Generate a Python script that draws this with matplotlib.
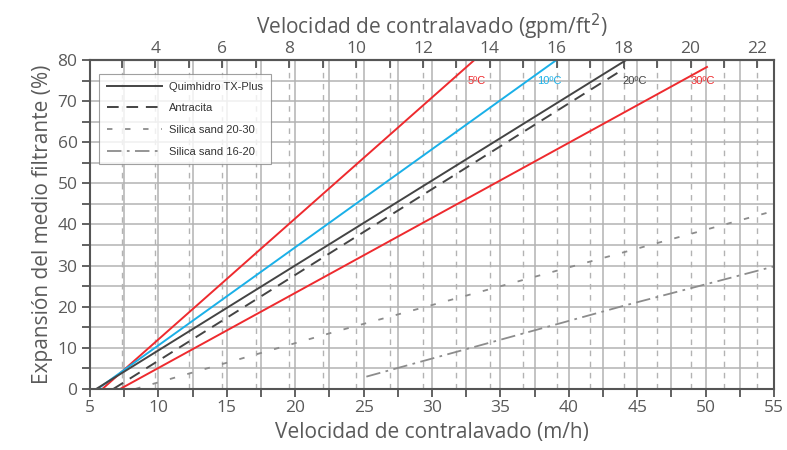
import numpy as np
import matplotlib
matplotlib.use("Agg")
import matplotlib.pyplot as plt
from matplotlib.ticker import MultipleLocator, FixedLocator

plt.rcParams['font.family'] = ['Open Sans', 'DejaVu Sans']

# conversion 1 gpm/ft2 -> m/h
GPM = 2.445

# series (m/h, % expansion)
x_5c = [5.9, 33.1]
y_5c = [0, 80]
x_10c = [5.55, 39.1]
y_10c = [0, 80]
x_quim = [5.45, 44.2]
y_quim = [0, 80]
x_antr = [6.7, 44.1]
y_antr = [0, 78]
x_30c = [7.2, 50.1]
y_30c = [0, 78.3]
x_ss2030 = [8.3, 23.0, 55.0]
y_ss2030 = [0, 14.0, 43.3]
x_ss1620 = [25.2, 44.2, 55.0]
y_ss1620 = [3.0, 20.4, 29.8]

temp_labels = ['5ºC', '10ºC', '20ºC', '30ºC']
temp_x = [32.6, 37.65, 43.95, 48.9]
temp_colors = ['#ee2a2e', '#1ab0e8', '#444444', '#ee2a2e']

gpm_ticks = [4, 6, 8, 10, 12, 14, 16, 18, 20, 22]
gpm_minor = list(range(3, 23))

txt = '#5a5a5a'

fig = plt.figure(figsize=(7.87, 4.5), dpi=100)
ax = fig.add_axes([0.1144, 0.1356, 0.8691, 0.7311])

ax.set_xlim(5, 55)
ax.set_ylim(0, 80)

# grid
for v in np.arange(5, 55.1, 2.5):
    ax.axvline(v, color='#b3b3b3', lw=1.1, zorder=0)
for v in np.arange(5, 80.1, 5):
    ax.axhline(v, color='#b3b3b3', lw=1.1, zorder=0)
for g in gpm_minor:
    ax.axvline(g * GPM, color='#b3b3b3', lw=1.0, ls=(0, (4, 4)), zorder=0)

# curves
ax.plot(x_5c, y_5c, color='#ee2a2e', lw=1.4)
ax.plot(x_10c, y_10c, color='#1ab0e8', lw=1.4)
ax.plot(x_quim, y_quim, color='#444444', lw=1.4, label='Quimhidro TX-Plus')
ax.plot(x_antr, y_antr, color='#444444', lw=1.4, ls=(0, (6, 4)), label='Antracita')
ax.plot(x_30c, y_30c, color='#ee2a2e', lw=1.4)
ax.plot(x_ss2030, y_ss2030, color='#8c8c8c', lw=1.3, ls=(0, (3, 7)),
        label='Silica sand 20-30')
ax.plot(x_ss1620, y_ss1620, color='#8c8c8c', lw=1.3, ls=(0, (8, 3, 1.5, 3)),
        label='Silica sand 16-20')

for lab, xx, cc in zip(temp_labels, temp_x, temp_colors):
    ax.text(xx, 74.8, lab, color=cc, fontsize=8, va='center', ha='left',
            family=['Liberation Sans', 'DejaVu Sans'])

leg = ax.legend(loc='upper left', bbox_to_anchor=(0.005, 0.975),
                frameon=True, fancybox=False, edgecolor='#888888',
                handlelength=5, handletextpad=0.6, labelspacing=1.05, borderpad=0.7,
                prop={'family': ['Liberation Sans', 'DejaVu Sans'], 'size': 8})
leg.get_frame().set_linewidth(0.8)
for t in leg.get_texts():
    t.set_color('#333333')

# axes styling
for s in ax.spines.values():
    s.set_color('#555555')
    s.set_linewidth(1.5)

ax.xaxis.set_major_locator(MultipleLocator(5))
ax.xaxis.set_minor_locator(MultipleLocator(2.5))
ax.yaxis.set_major_locator(MultipleLocator(10))
ax.yaxis.set_minor_locator(MultipleLocator(5))
ax.tick_params(axis='both', which='both', direction='out', color='#555555',
               width=1.3, length=6, labelsize=12.5, labelcolor=txt)
ax.tick_params(axis='x', pad=2)
ax.tick_params(axis='y', pad=3)

ax.set_xlabel('Velocidad de contralavado (m/h)', fontsize=15, color=txt, labelpad=4)
ax.set_ylabel('Expansión del medio filtrante (%)', fontsize=15, color=txt, labelpad=3)

top = ax.secondary_xaxis('top', functions=(lambda v: v / GPM, lambda g: g * GPM))
top.xaxis.set_major_locator(FixedLocator(gpm_ticks))
top.xaxis.set_minor_locator(FixedLocator(gpm_minor))
top.tick_params(axis='x', which='both', direction='in', length=6, width=1.3,
                color='#555555', labelsize=12.5, labelcolor=txt, pad=2)
top.spines['top'].set_color('#555555')
top.spines['top'].set_linewidth(1.5)
top.set_xlabel('Velocidad de contralavado (gpm/ft$^2$)', fontsize=15, color=txt,
               labelpad=5)

fig.savefig('out.png', dpi=100)
